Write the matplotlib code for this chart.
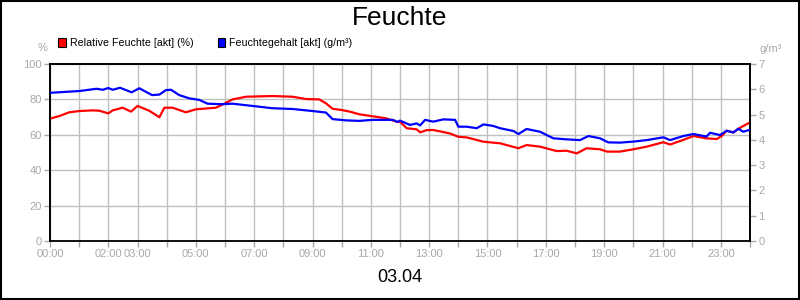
import matplotlib.pyplot as plt
from matplotlib.patches import Rectangle

plt.rcParams['font.family'] = ['Liberation Sans', 'DejaVu Sans']

# Relative Feuchte [akt] (%) - hours / values
rh_hours = [0, 0.32, 0.66, 1.0, 1.46, 1.69, 2.0, 2.15, 2.49, 2.78, 3.0, 3.4, 3.63, 3.75, 3.92,
            4.2, 4.66, 5.0, 5.69, 6.0, 6.26, 6.72, 7.63, 8.32, 8.78, 9.23, 9.46, 9.69, 10.0,
            10.3, 10.6, 11.0, 11.52, 11.92, 12.0, 12.23, 12.57, 12.69, 12.91, 13.14, 13.7, 14.0,
            14.29, 14.86, 15.43, 16.06, 16.34, 16.8, 17.37, 17.71, 18.06, 18.4, 18.86, 19.1,
            19.54, 20.0, 20.46, 21.03, 21.26, 21.71, 22.06, 22.5, 22.86, 23.03, 23.2, 23.43,
            23.66, 24.0]
rh_vals = [69.1, 70.6, 72.7, 73.4, 73.8, 73.6, 72.1, 73.8, 75.3, 73.1, 76.3, 73.6, 71.2, 69.9, 75.3,
           75.3, 72.7, 74.4, 75.3, 77.8, 80.0, 81.5, 81.9, 81.5, 80.2, 80.0, 77.8, 74.7, 74.0,
           73.0, 71.6, 70.6, 69.3, 67.2, 67.4, 63.7, 63.1, 61.4, 62.6, 62.7, 60.8, 58.9,
           58.5, 56.1, 55.2, 52.4, 54.2, 53.3, 50.8, 51.0, 49.5, 52.4, 51.8, 50.5,
           50.5, 51.8, 53.3, 55.8, 54.5, 57.1, 59.3, 58.0, 57.6, 59.3, 62.3, 61.4,
           64.0, 67.0]

# Feuchtegehalt [akt] (g/m³)
ah_hours = [0, 1.0, 1.6, 1.81, 2.0, 2.15, 2.4, 2.8, 3.06, 3.5, 3.75, 3.98, 4.15, 4.43, 4.78,
            5.12, 5.4, 5.9, 6.26, 6.95, 7.63, 8.32, 9.0, 9.46, 9.69, 10.15, 10.6, 11.06, 11.75,
            11.92, 12.0, 12.34, 12.57, 12.69, 12.86, 13.14, 13.49, 13.89, 14.0, 14.29, 14.63,
            14.86, 15.2, 15.43, 15.89, 16.06, 16.34, 16.8, 17.26, 17.71, 18.17, 18.46, 18.86,
            19.14, 19.54, 20.0, 20.46, 21.03, 21.26, 21.71, 22.06, 22.51, 22.63, 22.97, 23.2,
            23.43, 23.6, 23.77, 24.0]
ah_vals = [5.86, 5.93, 6.02, 5.98, 6.05, 5.98, 6.06, 5.88, 6.04, 5.77, 5.79, 5.97, 5.98, 5.77, 5.64,
           5.58, 5.43, 5.41, 5.43, 5.34, 5.25, 5.22, 5.14, 5.08, 4.82, 4.77, 4.75, 4.79, 4.79,
           4.71, 4.76, 4.59, 4.65, 4.57, 4.79, 4.72, 4.81, 4.79, 4.52, 4.52, 4.46,
           4.61, 4.55, 4.46, 4.35, 4.23, 4.43, 4.32, 4.06, 4.02, 3.99, 4.15, 4.06,
           3.90, 3.89, 3.93, 3.99, 4.10, 3.99, 4.15, 4.23, 4.13, 4.28, 4.19, 4.36,
           4.29, 4.44, 4.32, 4.40]

xtick_pos = [0, 2, 3, 5, 7, 9, 11, 13, 15, 17, 19, 21, 23]
xtick_labels = ['00:00', '02:00', '03:00', '05:00', '07:00', '09:00', '11:00',
                '13:00', '15:00', '17:00', '19:00', '21:00', '23:00']

grey = '#a8a8a8'
fig = plt.figure(figsize=(8, 3), dpi=100)
ax = fig.add_axes([0.0625, 0.1967, 0.875, 0.59])
ax2 = ax.twinx()

ax.plot(rh_hours, rh_vals, color='#ff0000', lw=1.6, zorder=3)
ax2.plot(ah_hours, ah_vals, color='#0000ff', lw=1.6, zorder=3)

ax.set_xlim(0, 24)
ax.set_ylim(0, 100)
ax2.set_ylim(0, 7)
ax.set_xticks(range(25), minor=True)
ax.set_xticks(xtick_pos)
ax.set_xticklabels(xtick_labels)
ax.set_yticks(range(0, 101, 20))
ax2.set_yticks(range(8))
ax.grid(True, which='both', axis='x', color='#c0c0c0', lw=1)
ax.grid(True, axis='y', color='#c0c0c0', lw=1)
ax.set_axisbelow(True)

for a in (ax, ax2):
    a.tick_params(which='both', colors=grey, labelsize=8, length=4, width=1, pad=2)
    for s in a.spines.values():
        s.set_color('black')
        s.set_linewidth(1.2)
ax.tick_params(axis='x', which='both', color=grey)
ax.spines['bottom'].set_color('#606060')

fig.text(0.5, 0.94, 'Feuchte', ha='center', va='center', fontsize=19)
fig.text(0.5, 0.075, '03.04', ha='center', va='center', fontsize=13)
fig.text(0.053, 0.84, '%', ha='center', va='center', fontsize=8, color=grey)
fig.text(0.963, 0.835, 'g/m³', ha='center', va='center', fontsize=8, color=grey)

fig.patches.append(Rectangle((0.073, 0.842), 0.009, 0.03, transform=fig.transFigure,
                             facecolor='#ff0000', edgecolor='black', lw=0.8))
fig.text(0.087, 0.857, 'Relative Feuchte [akt] (%)', va='center', fontsize=7.7)
fig.patches.append(Rectangle((0.272, 0.842), 0.009, 0.03, transform=fig.transFigure,
                             facecolor='#0000ff', edgecolor='black', lw=0.8))
fig.text(0.286, 0.857, 'Feuchtegehalt [akt] (g/m³)', va='center', fontsize=7.7)

fig.patches.append(Rectangle((0.001, 0.002), 0.998, 0.995, transform=fig.transFigure,
                             fill=False, edgecolor='black', lw=1.5))

plt.savefig('out.png', dpi=100)
